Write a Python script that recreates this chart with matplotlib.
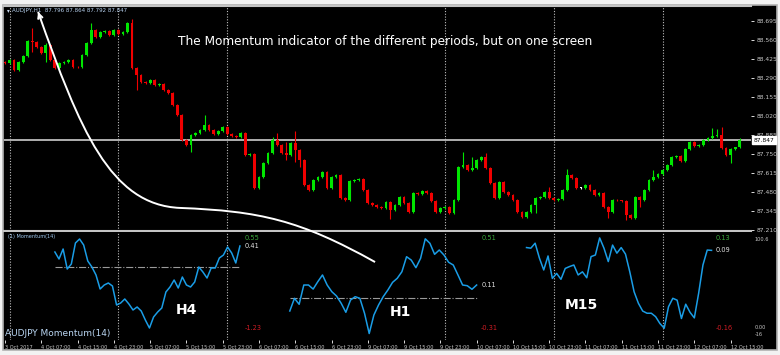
import numpy as np
import matplotlib.pyplot as plt
from matplotlib.path import Path
from matplotlib.patches import Rectangle, PathPatch

# AUDJPY H1 closes, bar 0 = 3 Oct 23:00
first_open = 88.403
closes = [
    88.396, 88.417, 88.346, 88.403, 88.446, 88.552, 88.545, 88.510, 88.467, 88.524,
    88.417, 88.361, 88.396, 88.403, 88.417, 88.368, 88.364, 88.453, 88.538, 88.630,
    88.581, 88.616, 88.623, 88.595, 88.630, 88.602, 88.616, 88.680, 88.361, 88.311,
    88.261, 88.254, 88.275, 88.240, 88.247, 88.204, 88.183, 88.098, 88.027, 87.849,
    87.814, 87.885, 87.899, 87.920, 87.956, 87.920, 87.892, 87.913, 87.942, 87.892,
    87.878, 87.871, 87.899, 87.743, 87.750, 87.509, 87.587, 87.686, 87.757, 87.849,
    87.814, 87.757, 87.743, 87.828, 87.778, 87.707, 87.530, 87.494, 87.565, 87.587,
    87.622, 87.509, 87.587, 87.601, 87.438, 87.423, 87.558, 87.565, 87.572, 87.494,
    87.402, 87.388, 87.374, 87.367, 87.409, 87.352, 87.388, 87.445, 87.402, 87.338,
    87.473, 87.466, 87.487, 87.473, 87.416, 87.338, 87.367, 87.374, 87.331, 87.423,
    87.658, 87.672, 87.636, 87.651, 87.707, 87.729, 87.651, 87.544, 87.438, 87.551,
    87.480, 87.459, 87.423, 87.338, 87.303, 87.338, 87.388, 87.438, 87.445, 87.480,
    87.438, 87.423, 87.430, 87.494, 87.601, 87.580, 87.509, 87.509, 87.530, 87.494,
    87.459, 87.473, 87.374, 87.338, 87.423, 87.420, 87.416, 87.317, 87.296, 87.445,
    87.423, 87.494, 87.565, 87.587, 87.608, 87.636, 87.672, 87.729, 87.736, 87.701,
    87.786, 87.835, 87.807, 87.814, 87.850, 87.864, 87.878, 87.885, 87.793, 87.743,
    87.786, 87.796, 87.847,
]
# long shadows (bar index -> price), the rest get a short default wick
wick_hi = {6: 88.645, 9: 88.538, 19: 88.680, 27: 88.687, 28: 88.708, 44: 88.027,
           59: 87.871, 60: 87.899, 62: 87.835, 64: 87.913, 101: 87.764, 103: 87.729,
           106: 87.757, 120: 87.516, 124: 87.644, 140: 87.445, 143: 87.636,
           156: 87.935, 157: 87.928, 158: 87.942, 162: 87.864}
wick_lo = {2: 88.339, 6: 88.474, 9: 88.403, 29: 88.204, 41: 87.764, 62: 87.707,
           64: 87.693, 65: 87.658, 85: 87.288, 117: 87.331, 133: 87.296,
           137: 87.281, 140: 87.374, 160: 87.686, 162: 87.792}
bid = 87.847

price_ticks = [87.210, 87.345, 87.480, 87.615, 87.750, 87.885, 88.020,
               88.155, 88.290, 88.425, 88.560, 88.695]

time_ticks = [0, 8, 16, 24, 32, 40, 48, 56, 64, 72, 80, 88, 96, 104, 112,
              120, 128, 136, 144, 152, 160]
time_labels = ["3 Oct 2017", "4 Oct 07:00", "4 Oct 15:00", "4 Oct 23:00",
               "5 Oct 07:00", "5 Oct 15:00", "5 Oct 23:00", "6 Oct 07:00",
               "6 Oct 15:00", "6 Oct 23:00", "9 Oct 07:00", "9 Oct 15:00",
               "9 Oct 23:00", "10 Oct 07:00", "10 Oct 15:00", "10 Oct 23:00",
               "11 Oct 07:00", "11 Oct 15:00", "11 Oct 23:00", "12 Oct 07:00",
               "12 Oct 15:00"]
day_bars = [1, 25, 49, 97, 121, 145]

# momentum(14) on three timeframes, pasted side by side (value - 100)
h4_span = (11.0, 51.8)
h4_mom = [0.29, 0.15, 0.35, -0.05, 0.05, 0.47, 0.55, 0.43, 0.11, -0.01,
          -0.17, -0.45, -0.37, -0.33, -0.39, -0.77, -0.73, -0.65, -0.75, -0.87,
          -0.81, -0.89, -1.07, -1.23, -1.01, -0.91, -0.83, -0.51, -0.41, -0.27,
          -0.43, -0.21, -0.37, -0.41, -0.31, -0.01, -0.11, -0.23, -0.03, -0.03,
          0.17, 0.23, 0.39, 0.27, 0.07, 0.41]
h1_span = (62.8, 104.0)
h1_mom = [-0.115, -0.005, -0.057, 0.110, 0.110, 0.075, 0.139, 0.197, 0.110, 0.052,
          0.015, -0.048, -0.126, -0.020, 0.009, -0.005, -0.135, -0.310, -0.150, -0.063,
          0.009, 0.067, 0.133, 0.168, 0.225, 0.355, 0.326, 0.260, 0.341, 0.510,
          0.471, 0.376, 0.413, 0.370, 0.307, 0.283, 0.197, 0.110, 0.104, 0.073, 0.110]
m15_span = (115.0, 155.8)
m15_mom = [0.099, 0.097, 0.113, 0.065, 0.027, 0.072, 0.000, 0.016, -0.003, 0.032,
           0.038, 0.043, 0.011, 0.021, 0.002, 0.070, 0.075, 0.130, 0.097, 0.054,
           0.107, 0.081, 0.099, 0.078, 0.021, -0.043, -0.080, -0.105, -0.112, -0.112,
           -0.123, -0.145, -0.160, -0.091, -0.064, -0.070, -0.129, -0.083, -0.109, -0.127,
           -0.048, 0.043, 0.091, 0.090]

# hand drawn arrow: two cubic curves (bar index, price)
arrow_x = [7.3, 16.5, 23.2, 38.6, 56.2, 65.0, 81.6]
arrow_p = [88.758, 87.920, 87.388, 87.367, 87.345, 87.281, 86.983]

GREEN = "#00e600"
RED = "#f00000"
GRID = "#bdbdbd"
TXT = "#c8c8c8"
MOM = "#1a9de6"

W, H = 780, 355
fig = plt.figure(figsize=(W / 100, H / 100), dpi=100)
fig.patch.set_facecolor("#f2f2f2")
fig.add_artist(Rectangle((3 / W, 1 - 350 / H), 774 / W, 345 / H,
                         transform=fig.transFigure, facecolor="black",
                         edgecolor="#b0b0b0", lw=1.2, zorder=-1))

ax = fig.add_axes([4 / W, 1 - 231 / H, 747 / W, 225 / H])
axm = fig.add_axes([4 / W, 1 - 340 / H, 747 / W, 108 / H])
xlim = (-0.22, 164.5)

# ---- candles
c = np.array(closes)
o = np.concatenate([[first_open], c[:-1]])
x = np.arange(len(c))
hi = np.maximum(o, c) + 0.006
lo = np.minimum(o, c) - 0.006
for i, v in wick_hi.items():
    hi[i] = max(hi[i], v)
for i, v in wick_lo.items():
    lo[i] = min(lo[i], v)
cols = np.where(c > o, GREEN, np.where(c < o, RED, "white"))
ax.vlines(x, lo, hi, colors=cols, lw=0.8, zorder=3)
body = np.maximum(np.abs(c - o), 0.004)
ax.bar(x, body, bottom=np.minimum(o, c), width=0.62, color=cols, lw=0, zorder=4)

ax.axhline(bid, color=GRID, lw=1.3, zorder=2)
ax.set_xlim(*xlim)
ax.set_ylim(87.2033, 88.800)
ax.set_facecolor("black")
ax.set_xticks([])
ax.yaxis.tick_right()
ax.set_yticks(price_ticks)
ax.set_yticklabels([f"{t:.3f}" for t in price_ticks])
ax.tick_params(axis="y", length=2, width=0.6, color="white", labelsize=4.3,
               labelcolor=TXT, pad=2)
for s in ("left", "right"):
    ax.spines[s].set_visible(False)
for s in ("top", "bottom"):
    ax.spines[s].set_color("#c4c4c4")
    ax.spines[s].set_linewidth(1.5)
ax.text(1.003, bid, f"{bid:.3f}", transform=ax.get_yaxis_transform(),
        fontsize=4.3, color="black", va="center", ha="left",
        bbox=dict(boxstyle="square,pad=0.25", fc="white", ec="white"))

ax.text(0.004, 0.978, "\u25be", transform=ax.transAxes, fontsize=4,
        color="#c8d8ee", va="center")
ax.text(0.0107, 0.978, "AUDJPY,H1  87.796 87.864 87.792 87.847",
        transform=ax.transAxes, fontsize=4, color="#b8d2f0", va="center")
ax.text(0.233, 0.84,
        "The Momentum indicator of the different periods, but on one screen",
        transform=ax.transAxes, fontsize=8.7, color="white", va="center")

# ---- momentum panel
axh1 = axm.twinx()
axm15 = axm.twinx()
axm.set_facecolor("black")
axm.set_xlim(*xlim)
axm.set_ylim(-1.47, 0.69)
axh1.set_ylim(-0.366, 0.569)
axm15.set_ylim(-0.198, 0.149)
for a in (axm, axh1, axm15):
    for s in a.spines.values():
        s.set_visible(False)
    a.set_yticks([])

series = [(axm, h4_span, h4_mom, "0.55", "0.41", "-1.23", True),
          (axh1, h1_span, h1_mom, "0.51", "0.11", "-0.31", True),
          (axm15, m15_span, m15_mom, "0.13", "0.09", "-0.16", False)]
for a, span, vals, top, cur, bot, level in series:
    xs = np.linspace(span[0], span[1], len(vals))
    if level:
        a.plot(span, [0, 0], ls="-.", color="#9a9a9a", lw=0.8, zorder=2)
    a.plot(xs, vals, color=MOM, lw=1.1, zorder=3)
    tx = a.get_xaxis_transform()
    a.text(span[1] + 1.0, 0.94, top, transform=tx, fontsize=4.8,
           color="#3aa83a", va="center")
    a.text(span[1] + 1.0, vals[-1], cur, fontsize=4.8, color="#e0e0e0",
           va="center")
    a.text(span[1] + 1.0, 0.111, bot, transform=tx, fontsize=4.8,
           color="#d01c24", va="center")

tx = axm.get_xaxis_transform()
axm.text(40.1, 0.28, "H4", transform=tx, fontsize=10, fontweight="bold",
         color="white", ha="center", va="center")
axm.text(87.1, 0.26, "H1", transform=tx, fontsize=10, fontweight="bold",
         color="white", ha="center", va="center")
axm.text(127.2, 0.32, "M15", transform=tx, fontsize=10, fontweight="bold",
         color="white", ha="center", va="center")

axm.text(0.002, 0.056, "AUDJPY Momentum(14)", transform=axm.transAxes,
         fontsize=6.5, color="#b8d4f0", va="center")
axm.text(0.005, 0.954, "(1) Momentum(14)", transform=axm.transAxes,
         fontsize=3.6, color="#9fc8ef", va="center")
axm.text(1.005, 0.935, "100.6", transform=axm.transAxes, fontsize=3.6,
         color=TXT, va="center")
axm.text(1.005, 0.12, "0.00", transform=axm.transAxes, fontsize=3.6,
         color=TXT, va="center")
axm.text(1.005, 0.055, "-16", transform=axm.transAxes, fontsize=3.6,
         color=TXT, va="center")

axm.set_xticks(time_ticks)
axm.set_xticklabels(time_labels)
axm.tick_params(axis="x", length=2, width=0.6, color="white", labelsize=3.6,
                labelcolor=TXT, pad=1.5)
for lbl in axm.get_xticklabels():
    lbl.set_ha("left")

for d in day_bars:
    for a in (ax, axm):
        a.axvline(d, color=GRID, lw=0.8, ls=(0, (1, 1.5)), zorder=1)

# ---- arrow across both panels
codes = [Path.MOVETO] + [Path.CURVE4] * 6
arrow = PathPatch(Path(np.column_stack([arrow_x, arrow_p]), codes),
                  transform=ax.transData, fill=False, edgecolor="white",
                  lw=1.4, zorder=5)
fig.add_artist(arrow)
# arrow head: short stub along the start tangent of the curve
tail = (arrow_x[0] + 0.06 * (arrow_x[1] - arrow_x[0]),
        arrow_p[0] + 0.06 * (arrow_p[1] - arrow_p[0]))
ax.annotate("", xy=(arrow_x[0], arrow_p[0]), xytext=tail,
            arrowprops=dict(arrowstyle="->", color="white", lw=1.4,
                            mutation_scale=8, shrinkA=0, shrinkB=0), zorder=6)

fig.savefig("out.png", dpi=100, facecolor=fig.get_facecolor())
